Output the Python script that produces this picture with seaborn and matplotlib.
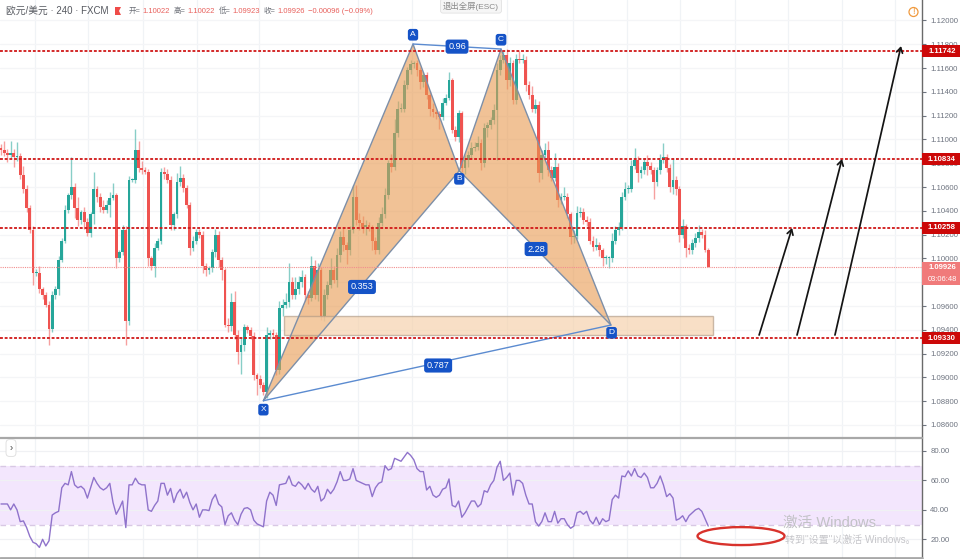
import matplotlib
matplotlib.use("Agg")
import matplotlib.pyplot as plt
from matplotlib.patches import Polygon, Rectangle, Ellipse
import numpy as np
import pandas as pd
import seaborn as sns

close = [
1.1091,1.1089,1.1087,1.1089,1.1085,1.1086,1.1070,1.1058,1.1042,1.1024,
1.0988,1.0988,1.0974,1.0969,1.0961,1.0941,1.0969,1.0974,1.0999,1.1015,
1.1041,1.1053,1.1060,1.1042,1.1032,1.1039,1.1031,1.1021,1.1037,1.1058,
1.1052,1.1043,1.1041,1.1045,1.1051,1.1053,1.1000,1.1005,1.1024,1.0947,
1.1066,1.1066,1.1091,1.1076,1.1074,1.1073,1.1000,1.0994,1.1009,1.1015,
1.1073,1.1071,1.1066,1.1028,1.1037,1.1064,1.1068,1.1059,1.1045,1.1009,
1.1015,1.1022,1.1020,1.0994,1.0990,1.0992,1.1005,1.1020,1.0999,1.0990,
1.0944,1.0943,1.0963,1.0936,1.0921,1.0927,1.0942,1.0940,1.0935,1.0902,
1.0899,1.0894,1.0888,1.0936,1.0937,1.0936,1.0906,1.0958,1.0961,1.0963,
1.0980,1.0969,1.0974,1.0980,1.0984,1.0969,1.0967,1.0994,1.0969,1.0990,
1.0952,1.0969,1.0978,1.0990,1.0982,1.1003,1.1018,1.1011,1.1007,1.1024,
1.1052,1.1032,1.1030,1.1026,1.1028,1.1026,1.1015,1.1007,1.1030,1.1037,
1.1053,1.1080,1.1077,1.1105,1.1126,1.1126,1.1146,1.1158,1.1163,1.1164,
1.1158,1.1148,1.1154,1.1137,1.1126,1.1123,1.1121,1.1119,1.1131,1.1135,
1.1150,1.1108,1.1102,1.1122,1.1076,1.1083,1.1087,1.1093,1.1094,1.1097,
1.1080,1.1110,1.1112,1.1116,1.1125,1.1158,1.1167,1.1171,1.1150,1.1164,
1.1133,1.1168,1.1167,1.1167,1.1146,1.1137,1.1126,1.1129,1.1072,1.1087,
1.1091,1.1074,1.1068,1.1077,1.1049,1.1052,1.1052,1.1037,1.1018,1.1019,
1.1038,1.1039,1.1032,1.1031,1.1015,1.1010,1.1011,1.1007,1.1000,1.1000,
1.1000,1.1015,1.1024,1.1026,1.1052,1.1058,1.1058,1.1078,1.1083,1.1072,
1.1074,1.1081,1.1078,1.1074,1.1064,1.1074,1.1083,1.1085,1.1076,1.1060,
1.1066,1.1058,1.1020,1.1027,1.1009,1.1007,1.1013,1.1017,1.1022,1.1020,
1.1007,1.0993]

upper_pips = [
3,8,3,10,3,12,3,8,4,3, 3,3,6,2,3,3,4,3,3,2, 4,2,25,3,10,2,4,3,2,15,
3,3,6,4,5,10,2,2,4,3, 3,2,18,8,6,3,2,2,4,2, 3,4,4,3,2,8,10,3,3,2,
4,3,3,3,2,2,3,5,3,2, 2,6,8,10,4,6,3,2,2,3, 2,3,2,6,3,4,2,6,5,8,
16,4,10,5,6,3,4,8,5,6, 3,5,3,10,4,6,5,8,3,3, 10,10,6,6,4,3,2,3,5,6,
6,3,8,12,6,5,4,3,4,2, 3,3,3,3,4,5,2,3,4,3, 7,2,3,3,2,4,3,5,4,6,
3,4,3,3,5,6,4,3,5,5, 3,4,6,5,3,3,8,5,3,4, 6,8,4,12,3,3,8,3,2,5,
6,4,3,4,3,4,6,3,2,3, 2,6,3,5,4,6,4,5,10,3, 4,3,6,3,3,3,5,12,3,3,
18,3,3,6,2,3,3,4,6,3, 4,2]

lower_pips = [
4,3,6,3,8,3,3,3,3,3, 10,3,3,3,2,14,3,3,5,2, 2,3,3,8,5,3,6,2,3,8,
5,4,3,3,10,2,8,3,2,20, 3,2,3,3,3,2,6,4,10,2, 3,4,3,4,4,3,3,3,3,6,
3,3,3,6,5,3,3,4,6,8, 2,5,4,4,10,18,5,3,3,4, 14,3,3,5,4,3,4,3,6,3,
4,3,3,4,4,5,5,3,3,5, 4,5,3,3,3,6,6,5,12,4, 3,4,6,5,6,3,8,3,3,3,
3,3,4,3,3,3,3,4,3,3, 5,6,4,3,6,4,4,10,3,2, 2,3,3,4,3,5,6,3,3,3,
6,3,8,3,3,42,4,3,8,5, 3,3,3,3,5,3,3,4,8,5, 3,5,3,3,6,3,3,3,6,5,
3,3,3,4,3,4,3,5,6,5, 8,3,3,4,2,3,3,2,3,8, 4,3,8,3,14,3,3,3,3,4,
6,5,6,3,8,3,3,3,3,3, 2,0]

rsi = [
44,44,44,40,44,40,32,32.5,28,22, 18,17,14.5,20,15.5,19,36.5,38,39,55,
58,57,66,57,55,56,54,48,55,62, 58,55,53.5,55,58,45,37,41,46,28,
57,57,61.5,58,57,57,40,39,43,46, 58,58,50,54.6,45,51,54,48,52,45,
40,44,35,40,40,39.5,47,50.5,44,42, 30,36,38,33,30,37,41,41.5,40,33,
30.5,29.5,28.5,46,52,50,43,57,57.5,58, 63,57,56,59,57,54,58,54,52,56,
46,48,54,51,54,59,66,60,60,61, 68,60,59,58,57,57,49,55,58,59,
70,67,68,75,74,73,76,79,77,74, 68,66,66,53.5,56,50,48.5,50,54,55,
61,43,42,46,35,38,42,46,46,42, 44,53,52,57,60,69,73,60,62,65,
50,60,60,58,50,44,44,32,29,32, 38,32,32,39,31,34,34,30,27.5,29,
38,39,37,39,33,30.5,35,30,34,32, 33,47,50,48,63,62.5,66.5,63,68,63,
62,65,62,55,55,58,63,57,49,51, 48,33,34,36,32,36,38,40,41,39,
34,29]

price_ticks = [1.12, 1.118, 1.116, 1.114, 1.112, 1.11, 1.108, 1.106, 1.104, 1.102,
               1.10, 1.098, 1.096, 1.094, 1.092, 1.09, 1.088, 1.086]
rsi_ticks = [80, 60, 40, 20]
levels = [1.11742, 1.10834, 1.10258, 1.09330]
last_price = 1.09926
vgrid_bars = [10.6, 27.2, 44.4, 61.2, 80.6, 111.6, 128.4, 158.1, 178.8, 195.6,
              212.2, 229.4, 246.0, 262.8, 279.4]

pt_X = (82.0, 1.08804)
pt_A = (128.75, 1.11802)
pt_B = (143.2, 1.10737)
pt_C = (156.25, 1.11760)
pt_D = (190.6, 1.09440)
zone_bars = (88.4, 222.5)
zone_prices = (1.09356, 1.09516)
arrows = [((236.9, 1.09356), (247.2, 1.10256)),
          ((248.75, 1.09356), (262.8, 1.10836)),
          ((260.6, 1.09356), (281.25, 1.11785))]
ratio_labels = [("0.96", 142.5, 1.1178), ("0.353", 112.8, 1.0976),
                ("2.28", 167.2, 1.10079), ("0.787", 136.6, 1.09100)]

sns.set_theme(style="white")
plt.rcParams["font.family"] = ["Liberation Sans", "Noto Sans CJK SC", "DejaVu Sans"]

W, H = 960, 559
fig = plt.figure(figsize=(W / 100, H / 100), dpi=100, facecolor="white")
ax = fig.add_axes([0, (H - 437) / H, 922 / W, 437 / H])
ax2 = fig.add_axes([0, (H - 557) / H, 922 / W, 119 / H], sharex=ax)

n = min(len(close), len(upper_pips), len(lower_pips), len(rsi))
idx = np.arange(n)
c = np.array(close[:n])
o = np.r_[c[0] + 0.0002, c[:-1]]
top = np.maximum(o, c)
bot = np.minimum(o, c)
hi = top + np.array(upper_pips[:n]) * 1e-4
lo = bot - np.array(lower_pips[:n]) * 1e-4
UP, DOWN = "#26a69a", "#ef5350"
cols = np.where(c >= o, UP, DOWN)

GRID = "#f0f3f6"
for a in (ax, ax2):
    for v in vgrid_bars:
        a.axvline(v, color=GRID, lw=0.9, zorder=0)

ymin = 1.12172 - 437 * 8.405e-5
ax.set_xlim(-0.3125, 287.8)
ax.set_ylim(ymin, 1.12172)
for t in price_ticks:
    ax.axhline(t, color="#f4f5f7", lw=0.9, zorder=0)
ax.vlines(idx, lo, hi, colors=cols, lw=1.0, alpha=0.55, zorder=2)
ax.bar(idx, np.maximum(top - bot, 0.00008), bottom=bot, width=0.9, color=cols, lw=0, zorder=3)

fill = "#e89a50"
edge = "#7d8fa8"
ax.add_patch(Polygon([pt_X, pt_A, pt_B], closed=True, fc=fill, ec="none", alpha=0.6, zorder=4))
ax.add_patch(Polygon([pt_B, pt_C, pt_D], closed=True, fc=fill, ec="none", alpha=0.6, zorder=4))
for poly in ([pt_X, pt_A, pt_B, pt_X], [pt_B, pt_C, pt_D, pt_B]):
    xs, ys = zip(*poly)
    ax.plot(xs, ys, color=edge, lw=1.0, zorder=5)
for p, q in ((pt_A, pt_C), (pt_X, pt_D)):
    ax.plot([p[0], q[0]], [p[1], q[1]], color="#5b8bd0", lw=1.0, zorder=5)

ax.add_patch(Rectangle((zone_bars[0], zone_prices[0]), zone_bars[1] - zone_bars[0],
                       zone_prices[1] - zone_prices[0], fc="#f5cfa8", ec="#b09a85",
                       alpha=0.65, lw=1.0, zorder=4))

for lv in levels:
    ax.axhline(lv, color="#d01818", lw=1.3, ls=(0, (1.6, 1.0)), zorder=6)
ax.axhline(last_price, color="#f28d8d", lw=0.8, ls=(0, (1, 1)), zorder=6)

BLUE = "#1553c7"
def tag(a, x, y, s, size=6.2):
    a.text(x, y, s, color="white", fontsize=size, ha="center", va="center", zorder=9,
           bbox=dict(boxstyle="round,pad=0.28,rounding_size=0.3", fc=BLUE, ec="none"))

tag(ax, pt_X[0], pt_X[1] - 0.00075, "X", 6)
tag(ax, pt_A[0], pt_A[1] + 0.00078, "A", 6)
tag(ax, pt_B[0], pt_B[1] - 0.00068, "B", 6)
tag(ax, pt_C[0], pt_C[1] + 0.00078, "C", 6)
tag(ax, pt_D[0] + 0.2, pt_D[1] - 0.00065, "D", 6)
for s, x, y in ratio_labels:
    tag(ax, x, y, s, 6.6)

for s, e in arrows:
    ax.annotate("", xy=e, xytext=s, zorder=8,
                arrowprops=dict(arrowstyle="->,head_width=0.18,head_length=0.3",
                                color="#141414", lw=1.25, shrinkA=0, shrinkB=0))

# RSI pane
ax2.set_ylim(8.0, 88.8)
for t in rsi_ticks:
    ax2.axhline(t, color="#f0f1f4", lw=0.9, zorder=1)
ax2.axhspan(30, 70, color="#f3e6fd", lw=0, zorder=0.5)
for t in (30, 70):
    ax2.axhline(t, color="#d8c8e4", lw=1.0, ls=(0, (4, 3)), zorder=1.5)
df = pd.DataFrame({"bar": idx, "rsi": rsi[:n]})
sns.lineplot(data=df, x="bar", y="rsi", ax=ax2, color="#8f73cb", lw=1.0, zorder=3)
ax2.set_xlabel("")
ax2.set_ylabel("")
ax2.add_patch(Ellipse(((741 - 1) / 3.2, 22.2), 87 / 3.2, 12.2, fc="none", ec="#d8322c", lw=1.7, zorder=6))

for a, ticks, fmt in ((ax, price_ticks, "{:.5f}"), (ax2, rsi_ticks, "{:.2f}")):
    a.yaxis.tick_right()
    a.set_yticks(ticks)
    a.set_yticklabels([fmt.format(t) for t in ticks], fontsize=5.6, color="#6e7480")
    a.tick_params(axis="y", length=3, width=0.8, color="#6e7480", pad=3, right=True)
    for side in ("left", "top", "bottom"):
        a.spines[side].set_visible(False)
    a.spines["right"].set_color("#6a6a6a")
    a.spines["right"].set_linewidth(1.0)
    a.grid(False)
ax.tick_params(axis="x", length=0, labelbottom=False)
ax2.set_xticks(vgrid_bars)
ax2.set_xticklabels([])
ax2.tick_params(axis="x", length=2, width=0.7, color="#8a8a8a", bottom=True)

def px(x, y):
    return x / W, 1 - y / H

# separators
for yy, lw_ in ((437.5, 1.6), (558, 2.0)):
    fig.add_artist(plt.Line2D([0, 922 / W], [1 - yy / H] * 2, color="#a8a8a8", lw=lw_))

# price tags
for lv in levels:
    y = 437 - (lv - ymin) / 8.405e-5
    fig.add_artist(Rectangle(px(922, y + 6), 38 / W, 12 / H, transform=fig.transFigure,
                             fc="#cc0808", ec="none", zorder=5))
    fig.text(*px(942, y), f"{lv:.5f}", color="white", fontsize=5.6, ha="center", va="center",
             fontweight="bold", zorder=6)
y_last = 437 - (last_price - ymin) / 8.405e-5
fig.add_artist(Rectangle(px(922, y_last + 18), 38 / W, 23 / H, transform=fig.transFigure,
                         fc="#f07a7a", ec="none", zorder=5))
fig.text(*px(942, y_last), f"{last_price:.5f}", color="white", fontsize=5.6, ha="center", va="center",
         fontweight="bold", zorder=6)
fig.text(*px(942, y_last + 12), "03:06:48", color="white", fontsize=5.4, ha="center", va="center", zorder=6)

# header
fig.text(*px(6, 11), "欧元/美元 · 240 · FXCM", fontsize=7.0, color="#55585f", va="center")
fig.add_artist(Polygon([px(115, 7), px(121, 7), px(119, 11), px(121, 15), px(115, 15)], closed=True,
                       transform=fig.transFigure, fc="#ef4b48", ec="none"))
for label, lx, val, vx in (("开=", 129, "1.10022", 142), ("高=", 174, "1.10022", 187),
                           ("低=", 219, "1.09923", 232), ("收=", 264, "1.09926", 277)):
    fig.text(*px(lx, 11.5), label, fontsize=5.4, color="#6a6d75", va="center")
    fig.text(*px(vx, 11.5), val, fontsize=5.5, color="#e8605c", va="center")
fig.text(*px(308, 11.5), "\u22120.00096 (\u22120.09%)", fontsize=5.5, color="#e8605c", va="center")
fig.text(*px(471, 6), "退出全屏(ESC)", fontsize=6.0, color="#8a8a8a", ha="center", va="center",
         bbox=dict(boxstyle="round,pad=0.3", fc="#f6f6f6", ec="#e2e2e2", lw=0.6))

# alert icon
fig.text(*px(913.5, 12), "!", fontsize=6.5, color="#f09a3e", ha="center", va="center")
fig.add_artist(Ellipse(px(913.5, 12), 9 / W, 9 / H, transform=fig.transFigure, fc="none", ec="#f09a3e", lw=0.9))

# collapse button
fig.text(*px(11, 448), "›", fontsize=7, color="#444444", ha="center", va="center",
         bbox=dict(boxstyle="round,pad=0.35", fc="white", ec="#dddddd", lw=0.6))

# watermark
fig.text(*px(783, 523), "激活 Windows", fontsize=10.5, color="#c2c2c6", va="center", zorder=10)
fig.text(*px(785, 540), "转到\"设置\"以激活 Windows。", fontsize=7.2, color="#c6c6ca", va="center", zorder=10)

fig.savefig("out.png", dpi=100, facecolor="white")
